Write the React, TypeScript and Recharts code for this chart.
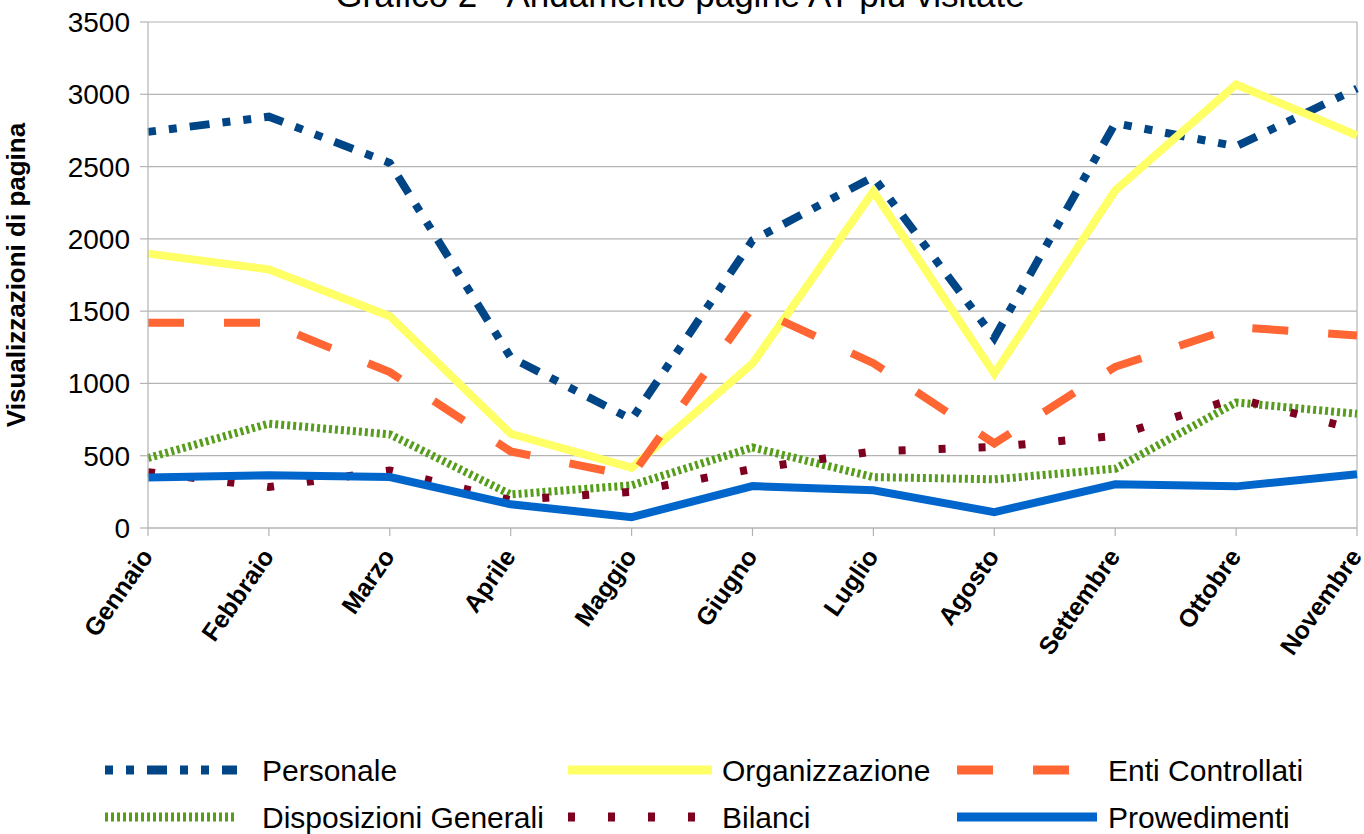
import React from 'react';
import { LineChart, Line, XAxis, YAxis, CartesianGrid, ReferenceLine } from 'recharts';

// months on the x axis
const months = [
  'Gennaio', 'Febbraio', 'Marzo', 'Aprile', 'Maggio', 'Giugno',
  'Luglio', 'Agosto', 'Settembre', 'Ottobre', 'Novembre',
];

const personale = [2740, 2845, 2525, 1180, 752, 1990, 2428, 1315, 2800, 2640, 3040];
const organizzazione = [1898, 1788, 1465, 652, 417, 1137, 2328, 1068, 2335, 3068, 2715];
const entiControllati = [1420, 1420, 1078, 530, 360, 1527, 1140, 585, 1115, 1390, 1332];
const disposizioniGenerali = [484, 722, 648, 232, 295, 557, 352, 337, 410, 868, 790];
const bilanci = [386, 283, 398, 192, 251, 408, 530, 560, 637, 898, 678];
const provvedimenti = [350, 365, 352, 164, 75, 290, 261, 110, 302, 288, 372];

const yTicks = [0, 500, 1000, 1500, 2000, 2500, 3000, 3500];

interface SeriesDef {
  key: string;
  name: string;
  color: string;
  dash?: string;
  values: number[];
}

const series: SeriesDef[] = [
  { key: 'personale', name: 'Personale', color: '#004586', dash: '8 13 8 13 20 13', values: personale },
  { key: 'organizzazione', name: 'Organizzazione', color: '#ffff66', values: organizzazione },
  { key: 'enti', name: 'Enti Controllati', color: '#ff6633', dash: '36 40', values: entiControllati },
  { key: 'disposizioni', name: 'Disposizioni Generali', color: '#579d1c', dash: '3 3', values: disposizioniGenerali },
  { key: 'bilanci', name: 'Bilanci', color: '#7e0021', dash: '7 33', values: bilanci },
  { key: 'provvedimenti', name: 'Prowedimenti', color: '#0066cc', values: provvedimenti },
];

const data = months.map((m, i) => {
  const row: any = { month: m };
  series.forEach(s => { row[s.key] = s.values[i]; });
  return row;
});

const FONT = '"Liberation Sans", Arial, sans-serif';

const MonthTick = (props: any) => {
  const { x, y, payload } = props;
  return (
    <g transform={`translate(${x - 9},${y + 8})`}>
      <text
        transform="rotate(-55)"
        textAnchor="end"
        dominantBaseline="hanging"
        fontFamily={FONT}
        fontWeight="bold"
        fontSize={25}
        fill="#000"
      >
        {payload.value}
      </text>
    </g>
  );
};

// legend layout: 3 columns x 2 rows
const legendCols = [
  { sym: 105, symW: 132, text: 262 },
  { sym: 568, symW: 144, text: 722 },
  { sym: 957, symW: 140, text: 1108 },
];
const legendRows = [770, 817];

const LegendBlock = () => (
  <svg width={1364} height={100} style={{ position: 'absolute', left: 0, top: 734 }}>
    {series.map((s, i) => {
      const col = legendCols[i % 3];
      const cy = legendRows[Math.floor(i / 3)] - 734;
      return (
        <g key={s.key}>
          <line
            x1={col.sym}
            x2={col.sym + col.symW}
            y1={cy}
            y2={cy}
            stroke={s.color}
            strokeWidth={9}
            strokeDasharray={s.dash}
          />
          <text x={col.text} y={cy + 11} fontFamily={FONT} fontSize={30} fill="#000">
            {s.name}
          </text>
        </g>
      );
    })}
  </svg>
);

export default function App() {
  return (
    <div style={{ position: 'absolute', left: 0, top: 0, width: 1364, height: 834, background: '#fff', overflow: 'hidden' }}>
      <svg width={1364} height={20} style={{ position: 'absolute', left: 0, top: 0 }}>
        <text x={680} y={7} textAnchor="middle" fontFamily={FONT} fontSize={35} fill="#000">
          Grafico 2 - Andamento pagine AT più visitate
        </text>
      </svg>
      <div style={{ position: 'absolute', left: 0, top: 0 }}>
        <LineChart width={1364} height={700} data={data} margin={{ top: 22, right: 7, left: 0, bottom: 0 }}>
          <CartesianGrid vertical={false} stroke="#b3b3b3" strokeWidth={1.2} />
          <XAxis
            dataKey="month"
            interval={0}
            height={172}
            tick={<MonthTick />}
            tickSize={8}
            axisLine={{ stroke: '#b3b3b3', strokeWidth: 1.2 }}
            tickLine={{ stroke: '#b3b3b3', strokeWidth: 1.2 }}
          />
          <YAxis
            width={148}
            domain={[0, 3500]}
            ticks={yTicks}
            interval={0}
            tickSize={8}
            tickMargin={10}
            axisLine={{ stroke: '#b3b3b3', strokeWidth: 1.2 }}
            tickLine={{ stroke: '#b3b3b3', strokeWidth: 1.2 }}
            tick={{ fill: '#000', fontSize: 28, fontFamily: FONT }}
            label={{
              value: 'Visualizzazioni di pagina',
              angle: -90,
              position: 'insideLeft',
              offset: 16,
              style: { fontFamily: FONT, fontWeight: 'bold', fontSize: 26, fill: '#000', textAnchor: 'middle' },
            }}
          />
          <ReferenceLine x="Novembre" stroke="#b3b3b3" strokeWidth={1.2} />
          {series.map(s => (
            <Line
              key={s.key}
              type="linear"
              dataKey={s.key}
              name={s.name}
              stroke={s.color}
              strokeWidth={8}
              strokeDasharray={s.dash}
              dot={false}
              activeDot={false}
              isAnimationActive={false}
            />
          ))}
        </LineChart>
      </div>
      <LegendBlock />
    </div>
  );
}
